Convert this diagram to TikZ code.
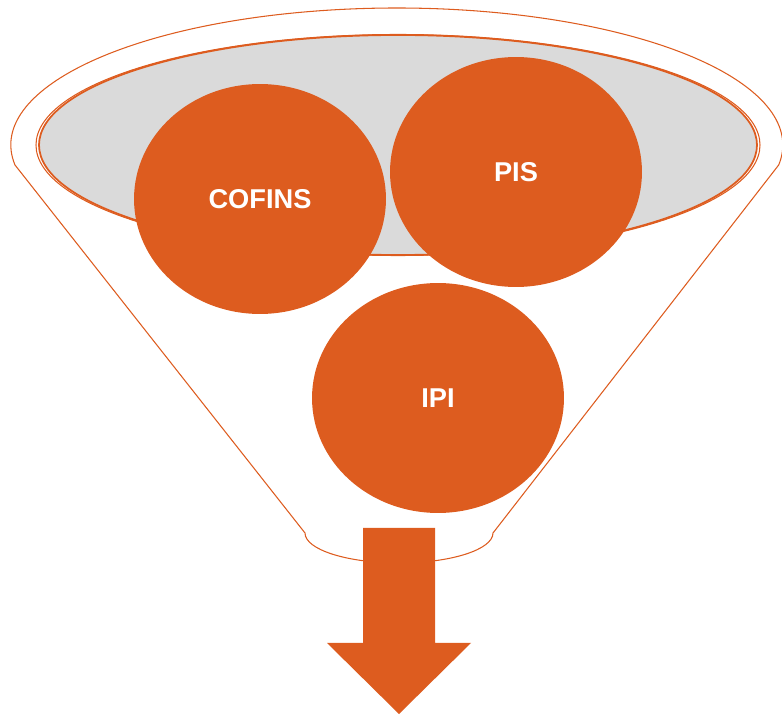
\documentclass[tikz,border=0pt]{standalone}
\usepackage{fontspec}
\setmainfont{Liberation Sans}
\usepackage{xcolor}
\usepackage{tikz}
\usetikzlibrary{shapes, positioning}
\definecolor{funnelorange}{HTML}{DD5C1F}
\definecolor{bowlgray}{HTML}{DADADA}

\begin{document}
\begin{tikzpicture}[x=0.02cm, y=-0.02cm,
	tax/.style={ellipse, fill=funnelorange, inner sep=0pt,
		minimum width=5.04cm, minimum height=4.6cm,
		text=white, font=\fontsize{15.5}{17}\selectfont\bfseries}]
				\useasboundingbox (0,0) rectangle (782,716);
				
				\draw [funnelorange, line width=0.6pt]
				(15,165) arc[start angle=171.6, end angle=368.4, x radius=386, y radius=137]
				-- (493,533) arc[start angle=0, end angle=180, x radius=94, y radius=30]
				-- cycle;
				
				\draw [funnelorange, line width=1pt, fill=bowlgray]
				(398,145) ellipse[x radius=359, y radius=110];
				\draw [funnelorange, line width=0.6pt]
				(398,145) ellipse[x radius=362, y radius=110.5];
				
				\node [tax] (cofins) at (260,199) {COFINS};
				\node [tax] (pis) at (516,172) {PIS};
				\node [tax] (ipi) at (438,398) {IPI};
				
				\fill [funnelorange] (363,528) -- (435,528) -- (435,643) -- (471,643)
				-- (399,714) -- (327,643) -- (363,643) -- cycle;
			\end{tikzpicture}
\end{document}
